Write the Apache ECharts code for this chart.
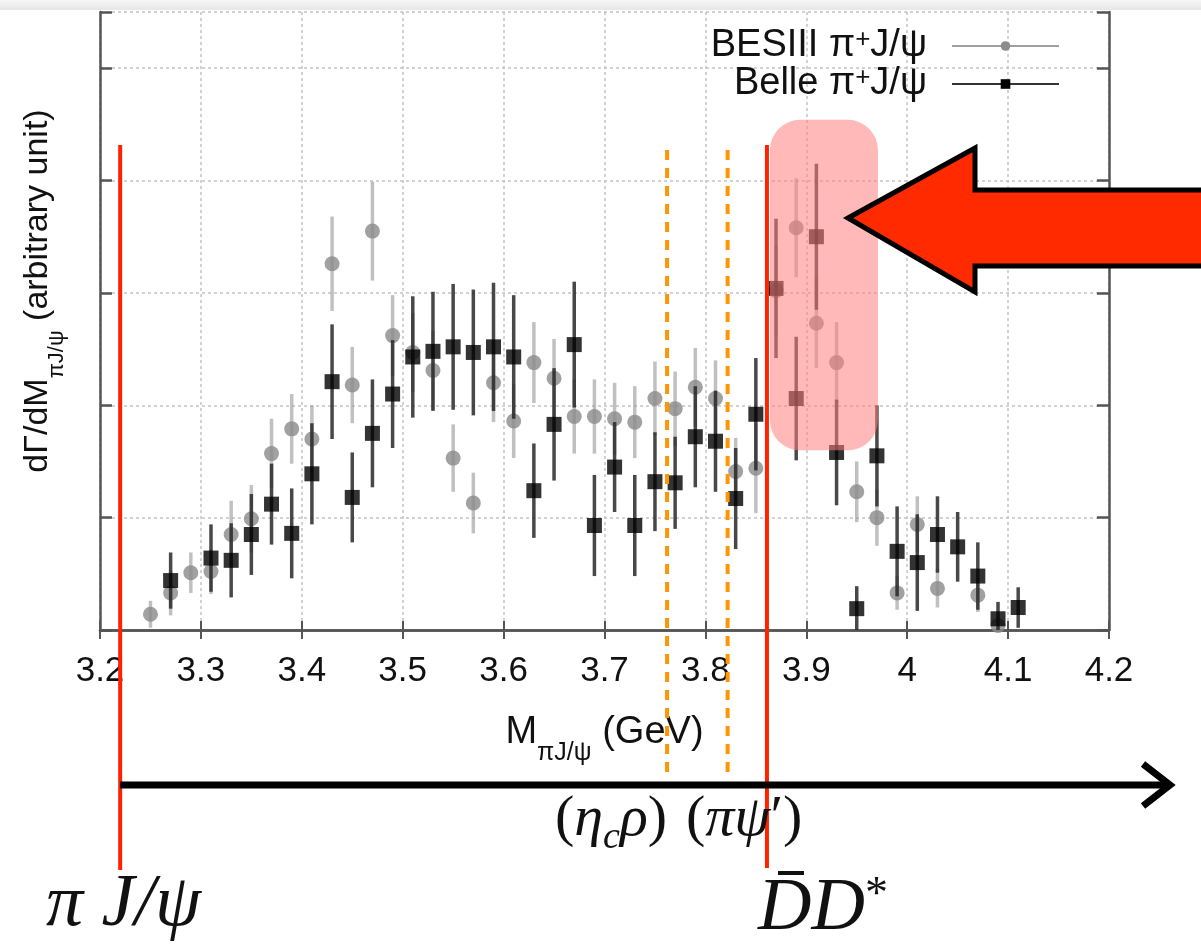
<!DOCTYPE html>
<html>
<head>
<meta charset="utf-8">
<script src="https://cdn.jsdelivr.net/npm/echarts@6/dist/echarts.min.js"></script>
<style>
  html, body { margin: 0; padding: 0; background: #fff; }
  #main { width: 1201px; height: 947px; }
</style>
</head>
<body>
<div id="main"></div>
<script>
// BESIII pi+ J/psi (grey circles)
const besX = [3.25, 3.27, 3.29, 3.31, 3.33, 3.35, 3.37, 3.39, 3.41, 3.43, 3.45, 3.47, 3.49, 3.51, 3.53,
  3.55, 3.57, 3.59, 3.61, 3.63, 3.65, 3.67, 3.69, 3.71, 3.73, 3.75, 3.77, 3.79, 3.81, 3.83, 3.85,
  3.87, 3.89, 3.91, 3.93, 3.95, 3.97, 3.99, 4.01, 4.03, 4.07, 4.09];
const besY = [0.14, 0.33, 0.51, 0.52, 0.85, 0.99, 1.57, 1.79, 1.70, 3.26, 2.18, 3.55, 2.62, 2.47, 2.31,
  1.53, 1.13, 2.20, 1.86, 2.38, 2.24, 1.90, 1.90, 1.88, 1.85, 2.06, 1.97, 2.16, 2.06, 1.41, 1.44,
  3.02, 3.58, 2.73, 2.38, 1.23, 1.00, 0.33, 0.94, 0.37, 0.31, 0.04];
const besErr = [0.12, 0.20, 0.18, 0.20, 0.30, 0.30, 0.31, 0.31, 0.30, 0.42, 0.34, 0.44, 0.36, 0.35, 0.35,
  0.30, 0.27, 0.35, 0.33, 0.36, 0.35, 0.33, 0.33, 0.32, 0.32, 0.33, 0.33, 0.35, 0.34, 0.30, 0.40,
  0.40, 0.44, 0.40, 0.36, 0.27, 0.25, 0.15, 0.25, 0.17, 0.15, 0.08];

// Belle pi+ J/psi (black squares)
const belleX = [3.27, 3.31, 3.33, 3.35, 3.37, 3.39, 3.41, 3.43, 3.45, 3.47, 3.49, 3.51, 3.53, 3.55,
  3.57, 3.59, 3.61, 3.63, 3.65, 3.67, 3.69, 3.71, 3.73, 3.75, 3.77, 3.79, 3.81, 3.83, 3.85, 3.87,
  3.89, 3.91, 3.93, 3.95, 3.97, 3.99, 4.01, 4.03, 4.05, 4.07, 4.09, 4.11];
const belleY = [0.44, 0.64, 0.62, 0.85, 1.12, 0.86, 1.39, 2.21, 1.18, 1.75, 2.10, 2.43, 2.48, 2.52,
  2.47, 2.52, 2.43, 1.24, 1.83, 2.54, 0.93, 1.45, 0.93, 1.32, 1.31, 1.72, 1.68, 1.17, 1.92, 3.04,
  2.06, 3.50, 1.58, 0.19, 1.55, 0.70, 0.60, 0.85, 0.74, 0.48, 0.10, 0.20];
const belleErr = [0.25, 0.30, 0.33, 0.36, 0.36, 0.40, 0.45, 0.51, 0.40, 0.48, 0.48, 0.54, 0.53, 0.56,
  0.56, 0.57, 0.55, 0.42, 0.50, 0.56, 0.45, 0.40, 0.45, 0.44, 0.41, 0.45, 0.45, 0.45, 0.50, 0.62,
  0.55, 0.65, 0.47, 0.20, 0.45, 0.40, 0.43, 0.34, 0.31, 0.30, 0.15, 0.18];

const xTickLabels = ['3.2', '3.3', '3.4', '3.5', '3.6', '3.7', '3.8', '3.9', '4', '4.1', '4.2'];
const seriesNames = ['BESIII π+J/ψ', 'Belle π+J/ψ'];

// threshold markers (GeV)
const solidThresholds = [3.22, 3.861];
const dashedThresholds = [3.762, 3.822];
const highlightX = [3.864, 3.971];
const highlightY = [1.6, 4.54];

const SANS = "'Liberation Sans', Arial, sans-serif";
const SERIF = "'Liberation Serif', 'DejaVu Serif', serif";

const besData = besX.map((x, i) => [x, besY[i], besErr[i]]);
const belleData = belleX.map((x, i) => [x, belleY[i], belleErr[i]]);

function errorBar(color, width) {
  return function (params, api) {
    const x = api.value(0);
    const y = api.value(1);
    const e = api.value(2);
    const p1 = api.coord([x, y + e]);
    const p2 = api.coord([x, Math.max(0, y - e)]);
    return {
      type: 'line',
      shape: { x1: p1[0], y1: p1[1], x2: p2[0], y2: p2[1] },
      style: { stroke: color, lineWidth: width }
    };
  };
}

const gridLine = { show: true, lineStyle: { color: '#c4c4c4', width: 1.5, type: [3, 3] } };
const frame = { show: true, lineStyle: { color: '#555', width: 2.5 } };

const chart = echarts.init(document.getElementById('main'));

chart.setOption({
  animation: false,
  backgroundColor: '#fff',
  grid: { left: 100, right: 92, top: 12, bottom: 317 },
  legend: {
    orient: 'vertical',
    right: 136,
    top: 22,
    align: 'right',
    itemWidth: 107,
    itemHeight: 12,
    itemGap: 0,
    data: seriesNames,
    formatter: n => n.replace('+', '{sup|+}'),
    textStyle: {
      fontFamily: SANS, fontSize: 38, color: '#111', lineHeight: 38, padding: [0, 20, 0, 0],
      rich: { sup: { fontSize: 26, verticalAlign: 'top', lineHeight: 24, fontFamily: SANS, color: '#111' } }
    }
  },
  xAxis: [
    {
      type: 'value', min: 3.2, max: 4.2, interval: 0.1,
      axisLine: frame,
      axisTick: { show: true, inside: true, length: 9, lineStyle: { color: '#555', width: 2 } },
      splitLine: gridLine,
      axisLabel: {
        margin: 24, fontFamily: SANS, fontSize: 35, color: '#111',
        formatter: v => xTickLabels[Math.round((v - 3.2) * 10)]
      },
      name: 'M{sub|πJ/ψ} (GeV)',
      nameLocation: 'middle',
      nameGap: 84,
      nameTextStyle: {
        fontFamily: SANS, fontSize: 38, color: '#111',
        rich: { sub: { fontFamily: SANS, fontSize: 25, verticalAlign: 'bottom', lineHeight: 25, padding: [0, 0, -14, 0], color: '#111' } }
      }
    },
    {
      type: 'value', min: 3.2, max: 4.2, interval: 0.1, position: 'top',
      axisLine: frame,
      axisTick: { show: true, inside: true, length: 9, lineStyle: { color: '#555', width: 2 } },
      axisLabel: { show: false },
      splitLine: { show: false }
    }
  ],
  yAxis: [
    {
      type: 'value', min: 0, max: 5.5, interval: 1,
      axisLine: frame,
      axisTick: { show: true, inside: true, length: 12, lineStyle: { color: '#555', width: 2.5 } },
      axisLabel: { show: false },
      splitLine: gridLine
    },
    {
      type: 'value', min: 0, max: 5.5, interval: 1, position: 'right',
      axisLine: frame,
      axisTick: { show: true, inside: true, length: 12, lineStyle: { color: '#555', width: 2.5 } },
      axisLabel: { show: false },
      splitLine: { show: false }
    }
  ],
  series: [
    {
      name: seriesNames[0], type: 'line', data: [],
      symbol: 'circle', symbolSize: 11,
      itemStyle: { color: '#8c8c8c' }, lineStyle: { color: '#a0a0a0', width: 2 }
    },
    {
      name: seriesNames[0], type: 'custom', z: 2, data: besData,
      renderItem: errorBar('rgba(150,150,150,0.6)', 3.5)
    },
    {
      name: seriesNames[0], type: 'scatter', z: 3, data: besData,
      symbol: 'circle', symbolSize: 15, itemStyle: { color: '#8a8a8a' }
    },
    {
      name: seriesNames[1], type: 'line', data: [],
      symbol: 'rect', symbolSize: 12,
      itemStyle: { color: '#000' }, lineStyle: { color: '#333', width: 2 }
    },
    {
      name: seriesNames[1], type: 'custom', z: 4, data: belleData,
      renderItem: errorBar('rgba(40,40,40,0.85)', 3.5)
    },
    {
      name: seriesNames[1], type: 'scatter', z: 5, data: belleData,
      symbol: 'rect', symbolSize: 15, itemStyle: { color: '#000' }
    }
  ]
});

// annotations placed through the axis scales
const px = v => chart.convertToPixel({ xAxisIndex: 0 }, v);
const py = v => chart.convertToPixel({ yAxisIndex: 0 }, v);

const graphics = [];

graphics.push({
  type: 'rect', z: 0, shape: { x: 0, y: 0, width: 1201, height: 10 },
  style: { fill: new echarts.graphic.LinearGradient(0, 0, 0, 1, [{ offset: 0, color: '#f7f7f7' }, { offset: 1, color: '#e6e6e6' }]) }
});

const hx0 = px(highlightX[0]);
const hx1 = px(highlightX[1]);
const hy0 = py(highlightY[1]);
const hy1 = py(highlightY[0]);
graphics.push({
  type: 'rect', z: 50,
  shape: { x: hx0, y: hy0, width: hx1 - hx0, height: hy1 - hy0, r: 30 },
  style: { fill: 'rgba(255,128,128,0.55)' }
});

dashedThresholds.forEach(v => {
  graphics.push({
    type: 'line', z: 60,
    shape: { x1: px(v), y1: 150, x2: px(v), y2: 778 },
    style: { stroke: '#ff9500', lineWidth: 4, lineDash: [10, 8] }
  });
});

const redTops = [145, 145];
const redBottoms = [870, 868];
solidThresholds.forEach((v, i) => {
  graphics.push({
    type: 'line', z: 61,
    shape: { x1: px(v), y1: redTops[i], x2: px(v), y2: redBottoms[i] },
    style: { stroke: '#ff2200', lineWidth: 4 }
  });
});

// big red arrow pointing at the highlighted bump
graphics.push({
  type: 'polygon', z: 70,
  shape: { points: [[848, 218], [975, 148], [975, 190], [1210, 190], [1210, 266], [975, 266], [975, 292]] },
  style: { fill: '#ff2a00', stroke: '#000', lineWidth: 5, lineJoin: 'miter' }
});

// black mass axis arrow
graphics.push({
  type: 'line', z: 65,
  shape: { x1: px(solidThresholds[0]), y1: 785, x2: 1166, y2: 785 },
  style: { stroke: '#000', lineWidth: 7 }
});
graphics.push({
  type: 'polyline', z: 65,
  shape: { points: [[1143, 764], [1170, 785], [1143, 806]] },
  style: { stroke: '#000', lineWidth: 7, fill: null }
});

// y axis title
graphics.push({
  type: 'text', z: 70, x: 38, y: 291, rotation: Math.PI / 2,
  style: {
    text: 'dΓ/dM{sub|πJ/ψ} (arbitrary unit)',
    fontFamily: SANS, fontSize: 34, fill: '#111',
    align: 'center', verticalAlign: 'middle',
    rich: { sub: { fontFamily: SANS, fontSize: 22, fill: '#111', verticalAlign: 'bottom', lineHeight: 22, padding: [0, 0, -13, 0] } }
  }
});

// threshold labels
const mathRich = {
  i: { fontFamily: SERIF, fontSize: 58, fontStyle: 'italic', fill: '#111' },
  s: { fontFamily: SERIF, fontSize: 38, fontStyle: 'italic', fill: '#111', verticalAlign: 'bottom', lineHeight: 38, padding: [0, 0, -8, 0] }
};
graphics.push({
  type: 'text', z: 70, x: 555, y: 820,
  style: { text: '({i|η}{s|c}{i|ρ})', fontFamily: SERIF, fontSize: 58, fill: '#111', verticalAlign: 'middle', rich: mathRich }
});
graphics.push({
  type: 'text', z: 70, x: 686, y: 820,
  style: { text: '({i|πψ}′)', fontFamily: SERIF, fontSize: 58, fill: '#111', verticalAlign: 'middle', rich: mathRich }
});
graphics.push({
  type: 'text', z: 70, x: 46, y: 906,
  style: { text: 'π J/ψ', fontFamily: SERIF, fontSize: 74, fontStyle: 'italic', fill: '#111', verticalAlign: 'middle' }
});
graphics.push({
  type: 'text', z: 70, x: 758, y: 910,
  style: {
    text: 'DD{sup|*}', fontFamily: SERIF, fontSize: 74, fontStyle: 'italic', fill: '#111', verticalAlign: 'middle',
    rich: { sup: { fontFamily: SERIF, fontSize: 46, fill: '#111', verticalAlign: 'top', lineHeight: 46 } }
  }
});
graphics.push({
  type: 'rect', z: 70, shape: { x: 778, y: 871, width: 26, height: 4 }, style: { fill: '#111' }
});

chart.setOption({ graphic: graphics });
</script>
</body>
</html>
